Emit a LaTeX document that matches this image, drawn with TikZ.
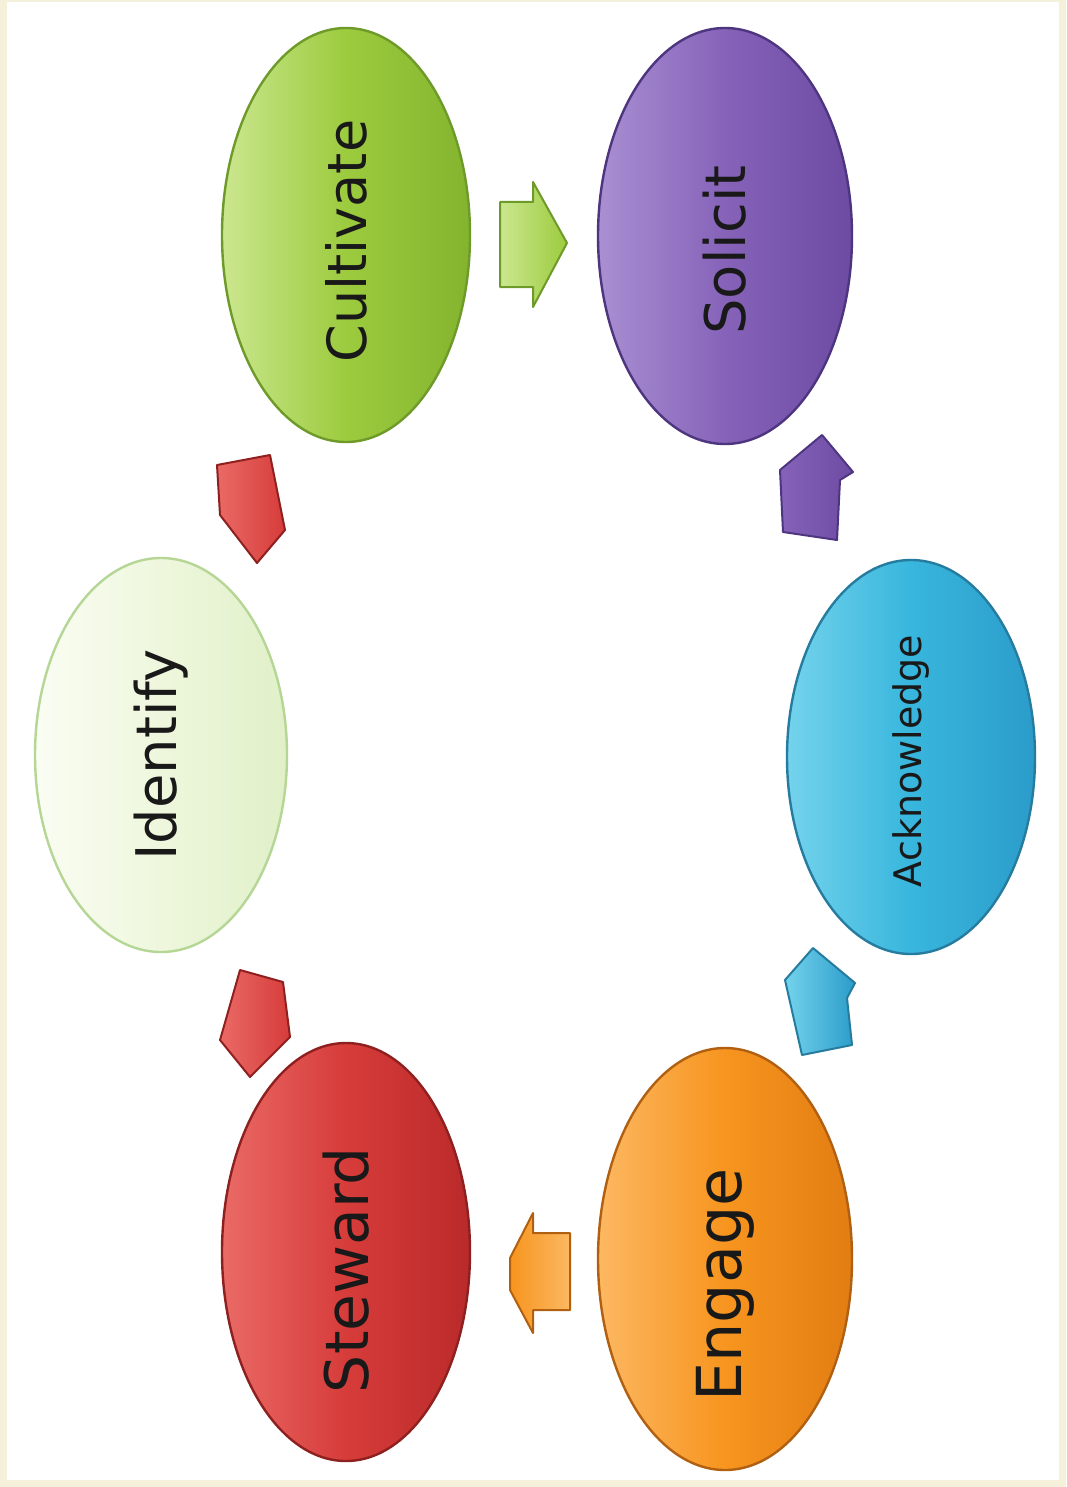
\documentclass[tikz,border=0pt]{standalone}
\usepackage{fontspec}
\setmainfont{DejaVu Sans}
\usetikzlibrary{shapes.geometric}
\definecolor{cream}{HTML}{F5F0DA}
\definecolor{cultlight}{HTML}{CBE78F}
\definecolor{cultbase}{HTML}{9CCB3E}
\definecolor{cultdark}{HTML}{84B42E}
\definecolor{cultline}{HTML}{6E9A2A}
\definecolor{sollight}{HTML}{A98FD2}
\definecolor{solbase}{HTML}{8663B9}
\definecolor{soldark}{HTML}{6D4BA3}
\definecolor{solline}{HTML}{4E3580}
\definecolor{idlight}{HTML}{FAFDF3}
\definecolor{idbase}{HTML}{EEF7DD}
\definecolor{iddark}{HTML}{E0F0C8}
\definecolor{idline}{HTML}{B5D695}
\definecolor{acklight}{HTML}{74D3EC}
\definecolor{ackbase}{HTML}{38B6DD}
\definecolor{ackdark}{HTML}{2B9CCA}
\definecolor{ackline}{HTML}{267C9E}
\definecolor{stwlight}{HTML}{EA6A66}
\definecolor{stwbase}{HTML}{D63C3A}
\definecolor{stwdark}{HTML}{BA2A2A}
\definecolor{stwline}{HTML}{8E2020}
\definecolor{englight}{HTML}{FCB862}
\definecolor{engbase}{HTML}{F7951F}
\definecolor{engdark}{HTML}{E27D12}
\definecolor{engline}{HTML}{B06010}
\tikzset{%
  stage/.style={shape=ellipse,rotate=90,line width=1.2pt,inner sep=0pt,
    font=\fontsize{27}{27}\selectfont,text=black!90},
  blockarrow/.style={line width=1pt,line join=round}
}

\begin{document}
\begin{tikzpicture}[x=0.5pt,y=-0.5pt]
    \useasboundingbox (0,0) rectangle (1066,1487);
    \fill[cream] (0,0) rectangle (1066,1487);
    \fill[white] (7,2) rectangle (1059,1480);
    \path
      (346,235) node (cult)[stage,minimum width=207pt,minimum height=124pt,draw=cultline,
        left color=cultlight,right color=cultdark,middle color=cultbase]{Cultivate\hspace*{6pt}}
      (725,236) node (sol)[stage,minimum width=208pt,minimum height=127pt,draw=solline,
        left color=sollight,right color=soldark,middle color=solbase,
        font=\fontsize{28}{28}\selectfont]{Solicit\hspace*{14pt}}
      (161,755) node (iden)[stage,minimum width=197pt,minimum height=126pt,draw=idline,
        left color=idlight,right color=iddark,middle color=idbase,
        font=\fontsize{28}{28}\selectfont]{Identify}
      (911,757) node (ack)[stage,minimum width=197pt,minimum height=124pt,draw=ackline,
        left color=acklight,right color=ackdark,middle color=ackbase,
        font=\fontsize{19}{19}\selectfont]{Acknowledge\hspace*{4pt}}
      (346,1252) node (stw)[stage,minimum width=209pt,minimum height=124pt,draw=stwline,
        left color=stwlight,right color=stwdark,middle color=stwbase,
        font=\fontsize{30}{30}\selectfont]{Steward\hspace*{18pt}}
      (725,1259) node (eng)[stage,minimum width=211pt,minimum height=127pt,draw=engline,
        left color=englight,right color=engdark,middle color=engbase,
        font=\fontsize{31}{31}\selectfont]{Engage\hspace*{26pt}};
    % block arrows between the stages
    \draw[blockarrow,draw=cultline,left color=cultlight,right color=cultbase]
      (500,202) -- (533,202) -- (533,182) -- (567,243) -- (533,307) -- (533,287) -- (500,287) -- cycle;
    \draw[blockarrow,draw=solline,left color=solbase,right color=soldark]
      (822,435) -- (853,472) -- (840,480) -- (837,540) -- (783,532) -- (780,470) -- cycle;
    \draw[blockarrow,draw=ackline,left color=acklight,right color=ackdark]
      (813,948) -- (855,983) -- (847,998) -- (852,1045) -- (802,1055) -- (785,980) -- cycle;
    \draw[blockarrow,draw=engline,left color=engbase,right color=englight]
      (570,1233) -- (533,1233) -- (533,1213) -- (510,1258) -- (510,1290) -- (533,1333) -- (533,1310) -- (570,1310) -- cycle;
    \draw[blockarrow,draw=stwline,left color=stwlight,right color=stwbase]
      (240,970) -- (283,982) -- (290,1037) -- (250,1077) -- (220,1040) -- cycle;
    \draw[blockarrow,draw=stwline,left color=stwlight,right color=stwbase]
      (217,465) -- (270,455) -- (285,530) -- (257,563) -- (220,515) -- cycle;
  \end{tikzpicture}
\end{document}
